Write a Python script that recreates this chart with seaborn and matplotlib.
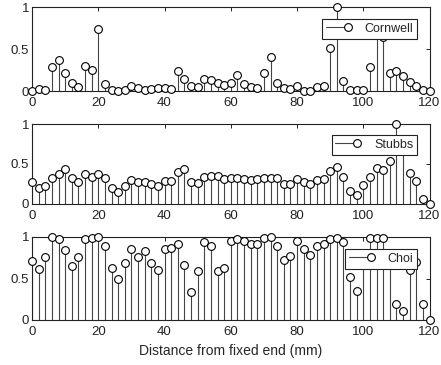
import numpy as np
import pandas as pd
import matplotlib
matplotlib.use("Agg")
import matplotlib.pyplot as plt
import seaborn as sns
from matplotlib.lines import Line2D
from matplotlib.legend_handler import HandlerBase

positions = list(range(0, 121, 2))

cornwell = [0.00, 0.02, 0.01, 0.29, 0.37, 0.22, 0.09, 0.045, 0.30, 0.25,
            0.74, 0.08, 0.01, 0.00, 0.01, 0.056, 0.03, 0.01, 0.025, 0.03,
            0.03, 0.02, 0.24, 0.145, 0.06, 0.045, 0.14, 0.13, 0.10, 0.07,
            0.10, 0.19, 0.08, 0.05, 0.04, 0.22, 0.41, 0.10, 0.04, 0.02,
            0.06, 0.00, 0.00, 0.05, 0.065, 0.51, 1.00, 0.12, 0.01, 0.01,
            0.01, 0.28, 0.78, 0.64, 0.22, 0.24, 0.18, 0.11, 0.06, 0.01,
            0.00]

stubbs = [0.27, 0.20, 0.23, 0.32, 0.37, 0.44, 0.33, 0.28, 0.37, 0.34,
          0.375, 0.32, 0.20, 0.145, 0.22, 0.30, 0.27, 0.27, 0.25, 0.23,
          0.29, 0.29, 0.40, 0.44, 0.27, 0.26, 0.34, 0.35, 0.355, 0.31,
          0.32, 0.33, 0.31, 0.30, 0.31, 0.33, 0.33, 0.32, 0.25, 0.25,
          0.31, 0.27, 0.245, 0.30, 0.31, 0.41, 0.46, 0.335, 0.16, 0.11,
          0.24, 0.335, 0.45, 0.43, 0.54, 1.00, 0.75, 0.39, 0.29, 0.065,
          0.00]

choi = [0.71, 0.61, 0.76, 1.00, 0.98, 0.84, 0.65, 0.76, 0.976, 0.99,
        0.996, 0.89, 0.63, 0.50, 0.69, 0.85, 0.76, 0.83, 0.69, 0.60,
        0.85, 0.87, 0.91, 0.66, 0.34, 0.59, 0.94, 0.89, 0.59, 0.63,
        0.95, 0.98, 0.955, 0.91, 0.92, 0.99, 1.00, 0.89, 0.72, 0.77,
        0.955, 0.85, 0.785, 0.89, 0.915, 0.97, 0.99, 0.935, 0.52, 0.35,
        0.78, 0.99, 0.99, 0.99, 0.75, 0.195, 0.105, 0.60, 0.70, 0.195,
        0.00]

series_names = ["Cornwell", "Stubbs", "Choi"]
series_values = [cornwell, stubbs, choi]
xticks = [0, 20, 40, 60, 80, 100, 120]
yticks = [0, 0.5, 1]
yticklabels = ["0", "0.5", "1"]
xlabel = "Distance from fixed end (mm)"

sns.set_style("white")
plt.rcParams["font.family"] = ["Liberation Sans", "DejaVu Sans"]

stem_color = "#444444"
MS = 5.6


class StemHandler(HandlerBase):
    def create_artists(self, legend, orig_handle, xdescent, ydescent,
                       width, height, fontsize, trans):
        y = height / 2.0 - ydescent
        x0 = -xdescent
        x1 = width - xdescent
        r = MS * 0.5 * legend.figure.dpi / 72.0
        line = Line2D([x0, x1 - r], [y, y], color=stem_color, lw=0.8)
        mk = Line2D([x1 - r], [y], linestyle="none", marker="o",
                    markersize=MS, markerfacecolor="white",
                    markeredgecolor="black", markeredgewidth=0.8)
        line.set_transform(trans)
        mk.set_transform(trans)
        return [line, mk]


fig = plt.figure(figsize=(4.41, 3.65), dpi=100)

W = 441.0
H = 365.0
left_px, right_px = 32, 429.5
panels_px = [(7, 91), (124, 204), (237, 320)]
legend_px = [(417, 19), (417, 135), (417, 249)]

for i, (name, vals) in enumerate(zip(series_names, series_values)):
    top, bot = panels_px[i]
    ax = fig.add_axes([left_px / W, 1 - bot / H, (right_px - left_px) / W, (bot - top) / H])
    df = pd.DataFrame({"x": positions, "y": vals})
    ax.vlines(df["x"], 0, df["y"], color=stem_color, lw=0.8, zorder=2)
    sns.scatterplot(data=df, x="x", y="y", ax=ax, marker="o", s=MS ** 2,
                    facecolor="white", edgecolor="black", linewidth=0.8,
                    zorder=3, legend=False, clip_on=False)
    ax.set_xlim(0, 120)
    ax.set_ylim(0, 1)
    ax.set_xticks(xticks)
    ax.set_yticks(yticks)
    ax.set_yticklabels(yticklabels)
    ax.set_xlabel("")
    ax.set_ylabel("")
    ax.tick_params(direction="in", length=3, width=0.7, top=True, right=True,
                   labelsize=9.5, colors="#222222", pad=2)
    ax.tick_params(axis="x", pad=4)
    for sp in ax.spines.values():
        sp.set_visible(True)
        sp.set_color("#222222")
        sp.set_linewidth(0.8)
    handle = Line2D([], [])
    lx, ly = legend_px[i]
    ax_l = (lx - left_px) / (right_px - left_px)
    ax_t = (bot - ly) / (bot - top)
    leg = ax.legend([handle], [name], loc="upper right",
                    handler_map={Line2D: StemHandler()},
                    bbox_to_anchor=(ax_l, ax_t), borderaxespad=0,
                    fancybox=False, framealpha=1, edgecolor="#222222",
                    fontsize=9, handlelength=2.2,
                    handletextpad=0.9, borderpad=0.3)
    leg.get_frame().set_linewidth(0.8)
    leg.set_zorder(5)
    if i == 2:
        ax.set_xlabel(xlabel, fontsize=10, labelpad=5)

fig.savefig("out.png", dpi=100)
